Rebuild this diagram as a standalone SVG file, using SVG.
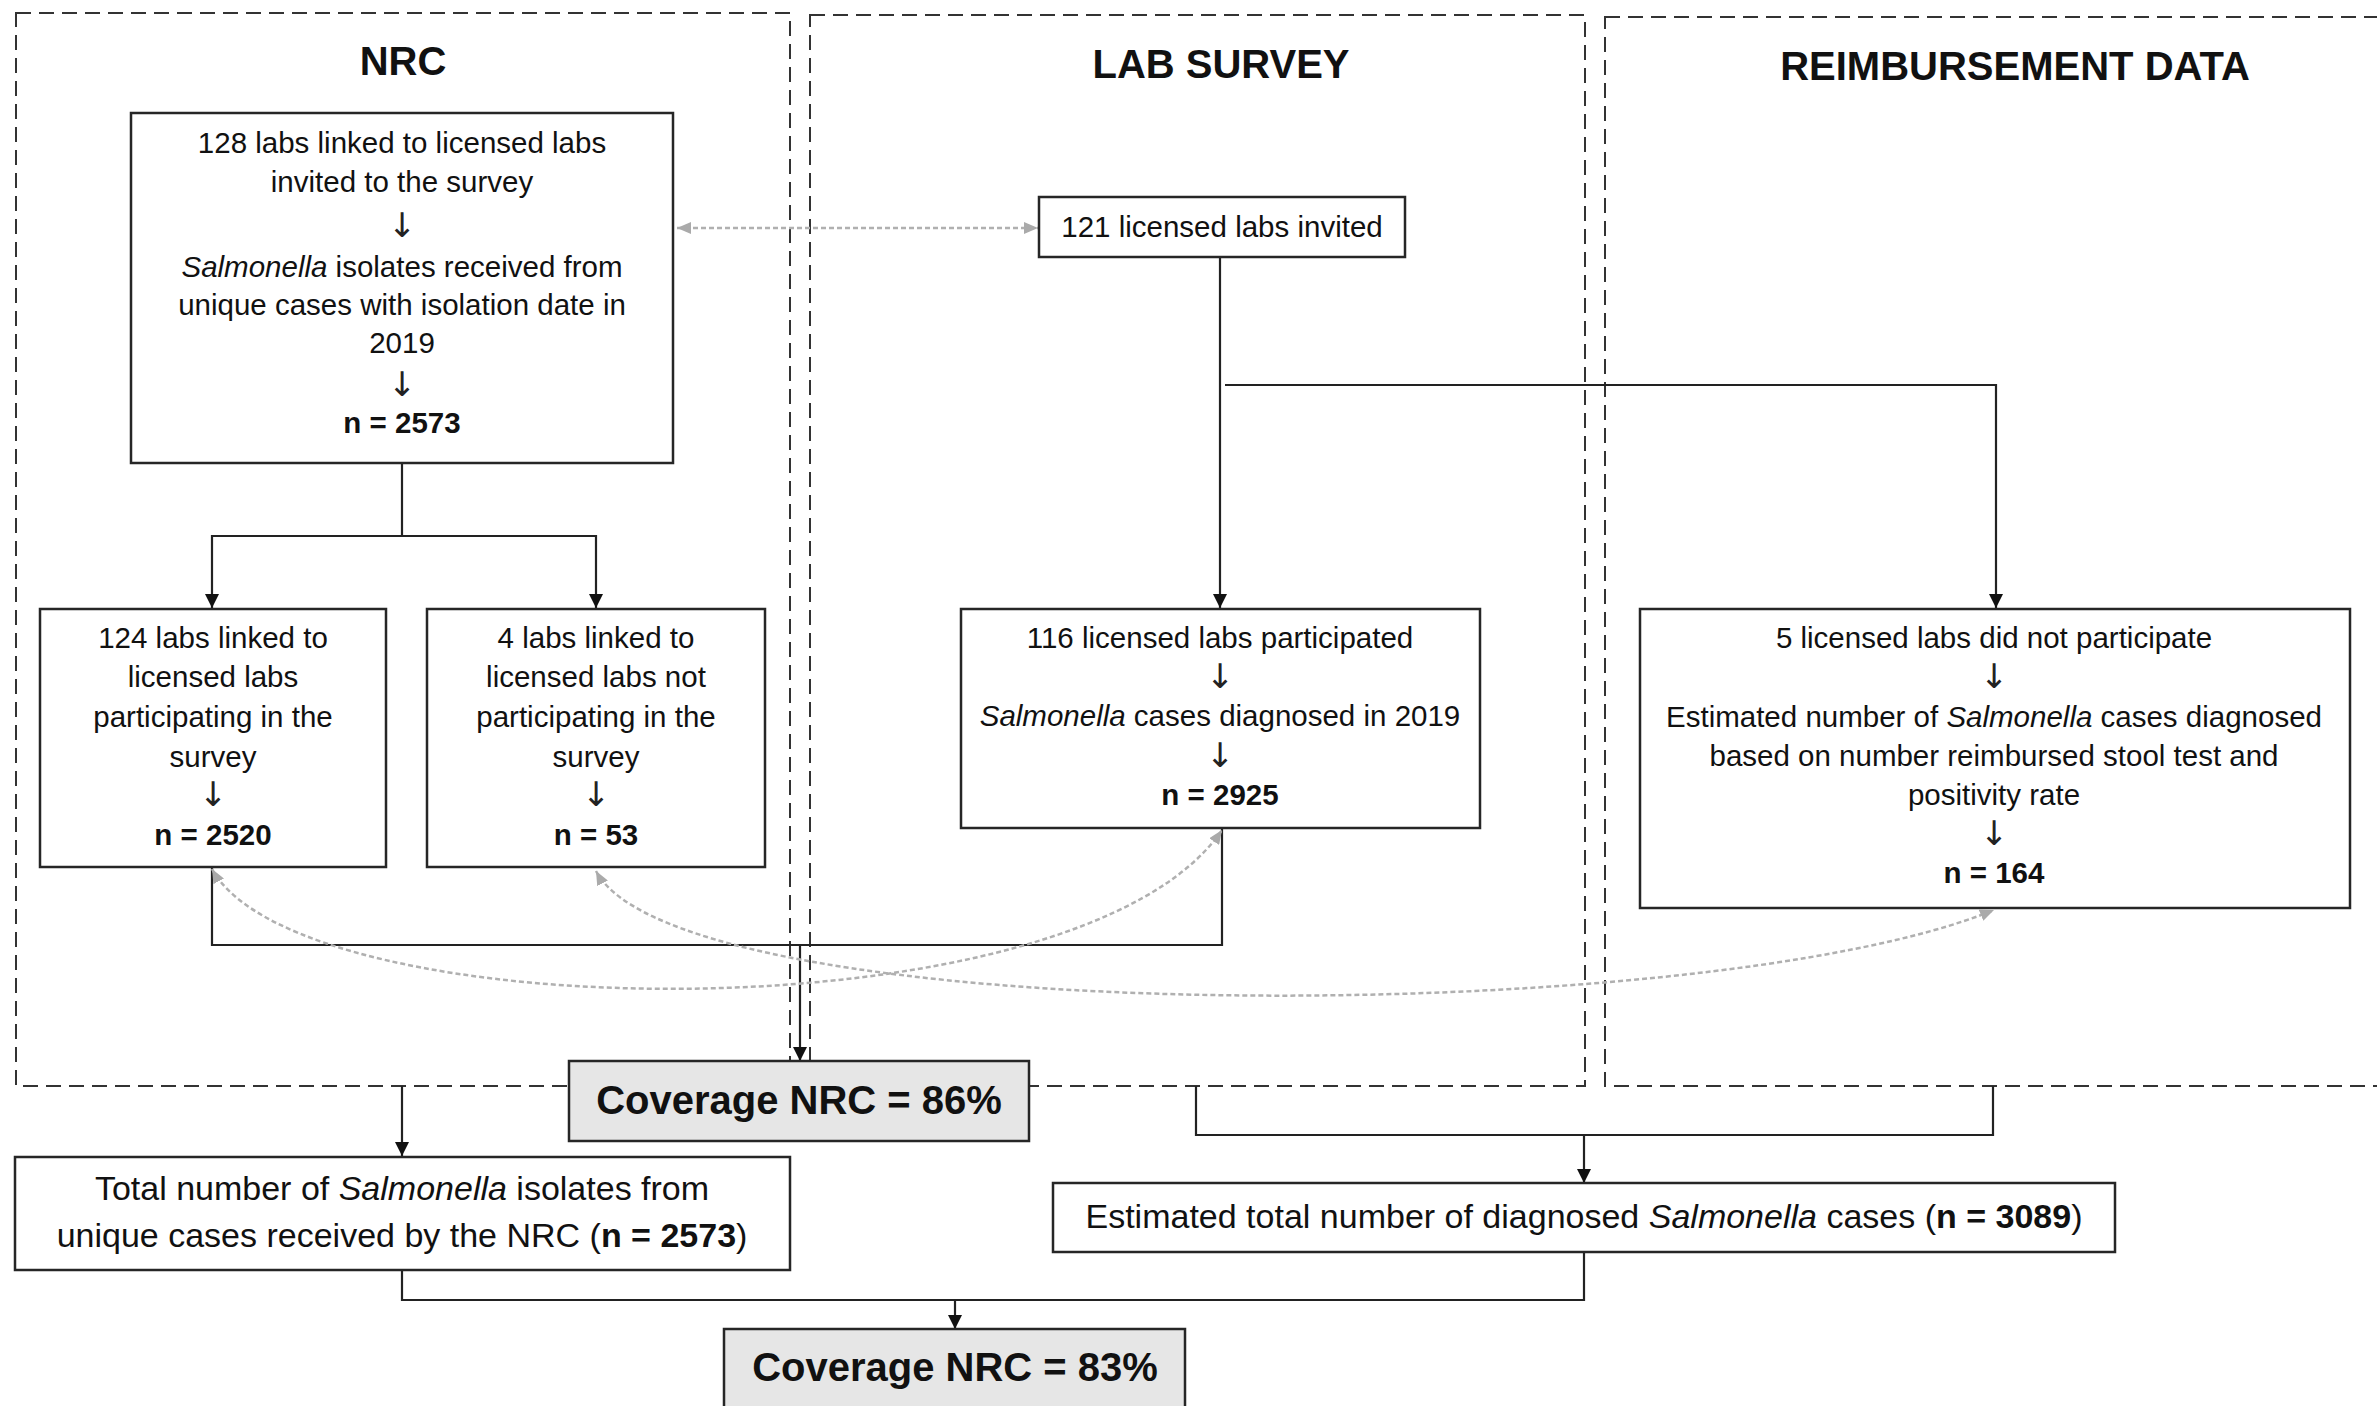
<svg xmlns="http://www.w3.org/2000/svg" width="2377" height="1406" viewBox="0 0 2377 1406">
<defs>
<style>
text{font-family:"Liberation Sans",Arial,sans-serif;fill:#111;text-anchor:middle}
.h{font-size:40px;font-weight:bold}
.t{font-size:29.5px}
.a{font-family:"DejaVu Sans",sans-serif;font-size:34px;fill:#222}
.m{font-size:34px}
.c{font-size:40px;font-weight:bold}
.b{font-weight:bold}
.i{font-style:italic}
.grp{fill:none;stroke:#333;stroke-width:2;stroke-dasharray:15 8}
.box{fill:#fff;stroke:#262626;stroke-width:2.5}
.cov{fill:#e6e6e6;stroke:#262626;stroke-width:2.5}
.ln{fill:none;stroke:#222;stroke-width:2.2}
.gl{fill:none;stroke:#b0b0b0;stroke-width:2.5;stroke-dasharray:5 3}
</style>
<marker id="ah" viewBox="0 0 14 14" refX="14" refY="7" markerWidth="14" markerHeight="14" markerUnits="userSpaceOnUse" orient="auto"><path d="M0,0 L14,7 L0,14 z" fill="#111"/></marker>
<marker id="gh" viewBox="0 0 14 12" refX="14" refY="6" markerWidth="14" markerHeight="12" markerUnits="userSpaceOnUse" orient="auto-start-reverse"><path d="M0,0 L14,6 L0,12 z" fill="#aaa"/></marker>
</defs>
<rect width="2377" height="1406" fill="#fff"/>

<g id="group-nrc">
<rect class="grp" x="16" y="13" width="774" height="1073"/>
<text class="h" x="403" y="75">NRC</text>
</g>
<g id="group-lab-survey">
<rect class="grp" x="810" y="15" width="775" height="1071"/>
<text class="h" x="1221" y="78">LAB SURVEY</text>
</g>
<g id="group-reimbursement">
<rect class="grp" x="1605" y="17" width="800" height="1069"/>
<text class="h" x="2015" y="80">REIMBURSEMENT DATA</text>
</g>

<g id="connectors">
<path class="ln" d="M402,463 V536 H212 V608" marker-end="url(#ah)"/>
<path class="ln" d="M402,536 H596 V608" marker-end="url(#ah)"/>
<path class="ln" d="M1220,257 V608" marker-end="url(#ah)"/>
<path class="ln" d="M1225,385 H1996 V608" marker-end="url(#ah)"/>
<path class="ln" d="M212,867 V945 H1222 V828"/>
<path class="ln" d="M800,945 V1061" marker-end="url(#ah)"/>
<path class="ln" d="M402,1086 V1156" marker-end="url(#ah)"/>
<path class="ln" d="M1196,1086 V1135 H1993 V1086"/>
<path class="ln" d="M1584,1135 V1183" marker-end="url(#ah)"/>
<path class="ln" d="M402,1270 V1300 H1584 V1252"/>
<path class="ln" d="M955,1300 V1329" marker-end="url(#ah)"/>
<path class="gl" d="M677,228 H1038" marker-start="url(#gh)" marker-end="url(#gh)"/>
<path class="gl" d="M212,869 C300,1030 1080,1040 1222,830" marker-start="url(#gh)" marker-end="url(#gh)"/>
<path class="gl" d="M596,871 C680,1030 1700,1030 1994,910" marker-start="url(#gh)" marker-end="url(#gh)"/>
</g>

<g id="node-nrc-128">
<rect class="box" x="131" y="113" width="542" height="350"/>
<text class="t" x="402" y="153">128 labs linked to licensed labs</text>
<text class="t" x="402" y="192">invited to the survey</text>
<text class="a" x="402" y="237">↓</text>
<text class="t" x="402" y="277"><tspan class="i">Salmonella</tspan> isolates received from</text>
<text class="t" x="402" y="315">unique cases with isolation date in</text>
<text class="t" x="402" y="353">2019</text>
<text class="a" x="402" y="396">↓</text>
<text class="t b" x="402" y="433">n = 2573</text>
</g>

<g id="node-121">
<rect class="box" x="1039" y="197" width="366" height="60"/>
<text class="t" x="1222" y="237">121 licensed labs invited</text>
</g>

<g id="node-124">
<rect class="box" x="40" y="609" width="346" height="258"/>
<text class="t" x="213" y="648">124 labs linked to</text>
<text class="t" x="213" y="687">licensed labs</text>
<text class="t" x="213" y="727">participating in the</text>
<text class="t" x="213" y="767">survey</text>
<text class="a" x="213" y="806">↓</text>
<text class="t b" x="213" y="845">n = 2520</text>
</g>

<g id="node-4">
<rect class="box" x="427" y="609" width="338" height="258"/>
<text class="t" x="596" y="648">4 labs linked to</text>
<text class="t" x="596" y="687">licensed labs not</text>
<text class="t" x="596" y="727">participating in the</text>
<text class="t" x="596" y="767">survey</text>
<text class="a" x="596" y="806">↓</text>
<text class="t b" x="596" y="845">n = 53</text>
</g>

<g id="node-116">
<rect class="box" x="961" y="609" width="519" height="219"/>
<text class="t" x="1220" y="648">116 licensed labs participated</text>
<text class="a" x="1220" y="688">↓</text>
<text class="t" x="1220" y="726"><tspan class="i">Salmonella</tspan> cases diagnosed in 2019</text>
<text class="a" x="1220" y="767">↓</text>
<text class="t b" x="1220" y="805">n = 2925</text>
</g>

<g id="node-5">
<rect class="box" x="1640" y="609" width="710" height="299"/>
<text class="t" x="1994" y="648">5 licensed labs did not participate</text>
<text class="a" x="1994" y="688">↓</text>
<text class="t" x="1994" y="727">Estimated number of <tspan class="i">Salmonella</tspan> cases diagnosed</text>
<text class="t" x="1994" y="766">based on number reimbursed stool test and</text>
<text class="t" x="1994" y="805">positivity rate</text>
<text class="a" x="1994" y="845">↓</text>
<text class="t b" x="1994" y="883">n = 164</text>
</g>

<g id="node-coverage-86">
<rect class="cov" x="569" y="1061" width="460" height="80"/>
<text class="c" x="799" y="1114">Coverage NRC = 86%</text>
</g>

<g id="node-total">
<rect class="box" x="15" y="1157" width="775" height="113"/>
<text class="m" x="402" y="1200">Total number of <tspan class="i">Salmonella</tspan> isolates from</text>
<text class="m" x="402" y="1247">unique cases received by the NRC (<tspan class="b">n = 2573</tspan>)</text>
</g>

<g id="node-estimated">
<rect class="box" x="1053" y="1183" width="1062" height="69"/>
<text class="m" x="1584" y="1228">Estimated total number of diagnosed <tspan class="i">Salmonella</tspan> cases (<tspan class="b">n = 3089</tspan>)</text>
</g>

<g id="node-coverage-83">
<rect class="cov" x="724" y="1329" width="461" height="90"/>
<text class="c" x="955" y="1381">Coverage NRC = 83%</text>
</g>
</svg>
